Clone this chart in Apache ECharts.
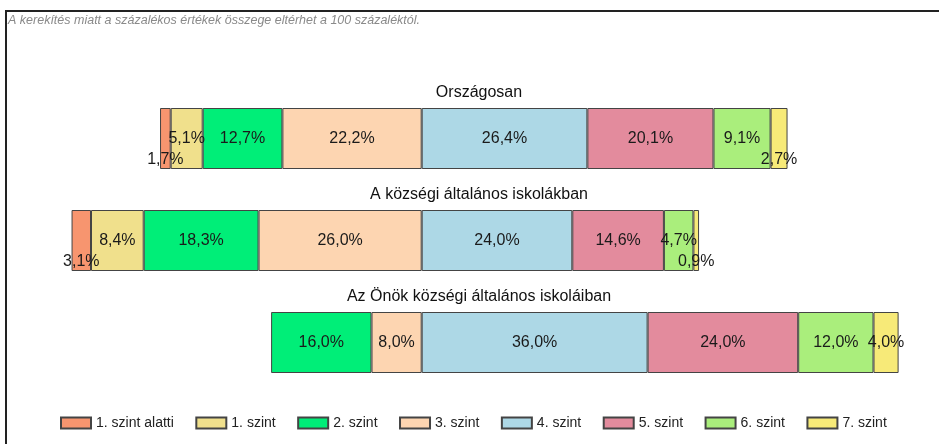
<!DOCTYPE html>
<html>
<head>
<meta charset="utf-8">
<script src="https://cdn.jsdelivr.net/npm/echarts@6/dist/echarts.min.js"></script>
<style>
  html, body { margin: 0; padding: 0; background: #fff; }
  #frame { position: absolute; left: 5px; top: 10px; width: 934px; height: 434px;
           border-top: 2px solid #222; border-left: 2px solid #222; }
  #chart { position: absolute; left: 0; top: 0; width: 939px; height: 444px; }
</style>
</head>
<body>
<div id="frame"></div>
<div id="chart"></div>
<script>
// csoportok (sávok)
var categories = ['Országosan', 'A községi általános iskolákban', 'Az Önök községi általános iskoláiban'];
var levels = ['1. szint alatti', '1. szint', '2. szint', '3. szint', '4. szint', '5. szint', '6. szint', '7. szint'];

// százalékos értékek szintenként
var szintAlatti = [1.7, 3.1, 0];
var szint1 = [5.1, 8.4, 0];
var szint2 = [12.7, 18.3, 16.0];
var szint3 = [22.2, 26.0, 8.0];
var szint4 = [26.4, 24.0, 36.0];
var szint5 = [20.1, 14.6, 24.0];
var szint6 = [9.1, 4.7, 12.0];
var szint7 = [2.7, 0.9, 4.0];

var colors = ['#F7956F', '#F0E08C', '#00EE78', '#FDD5B1', '#ADD8E6', '#E38B9D', '#AAEE7C', '#F7EA78'];
var note = 'A kerekítés miatt a százalékos értékek összege eltérhet a 100 százaléktól.';
var font = 'Liberation Sans, Arial, sans-serif';

var values = [szintAlatti, szint1, szint2, szint3, szint4, szint5, szint6, szint7];
// 1-3. szint balra (negatív irány), 3/4 határ a nullpont
var stackOrder = [3, 2, 1, 0, 4, 5, 6, 7];

function fmt (v) {
  return Math.abs(v).toFixed(1).replace('.', ',') + '%';
}

var series = stackOrder.map(function (i) {
  var sign = i < 4 ? -1 : 1;
  return {
    name: levels[i],
    type: 'bar',
    stack: 'total',
    barWidth: 61,
    itemStyle: { color: colors[i], borderColor: '#444', borderWidth: 1 },
    label: {
      show: true,
      position: 'inside',
      color: '#1a1a1a',
      fontSize: 16,
      fontFamily: font,
      formatter: function (p) { return fmt(p.value); }
    },
    data: values[i].map(function (v) {
      if (!v) return '-';
      var item = { value: sign * v };
      if (v < 3.5) item.label = { offset: [0, 21] };
      return item;
    })
  };
});

var titles = categories.map(function (c, k) {
  return {
    text: c,
    left: 479,
    top: 85 + k * 102,
    textAlign: 'center',
    padding: 0,
    textStyle: { fontSize: 16, fontWeight: 'normal', color: '#111', fontFamily: font }
  };
});

var myChart = echarts.init(document.getElementById('chart'));
myChart.setOption({
  animation: false,
  color: colors,
  title: titles,
  graphic: [{
    type: 'text',
    left: 8,
    top: 14,
    style: { text: note, fill: '#8a8a8a', font: 'italic 12.5px Liberation Sans, Arial, sans-serif' }
  }],
  legend: {
    data: levels,
    icon: 'rect',
    left: 60,
    top: 416,
    padding: 0,
    itemWidth: 30,
    itemHeight: 11,
    itemGap: 21.5,
    textStyle: { fontSize: 14, color: '#222', fontFamily: font }
  },
  grid: { left: 45.2, right: 15.3, top: 87.5, height: 306 },
  xAxis: {
    type: 'value',
    min: -60,
    max: 80,
    show: false
  },
  yAxis: {
    type: 'category',
    data: categories,
    inverse: true,
    show: false
  },
  series: series
});
</script>
</body>
</html>
